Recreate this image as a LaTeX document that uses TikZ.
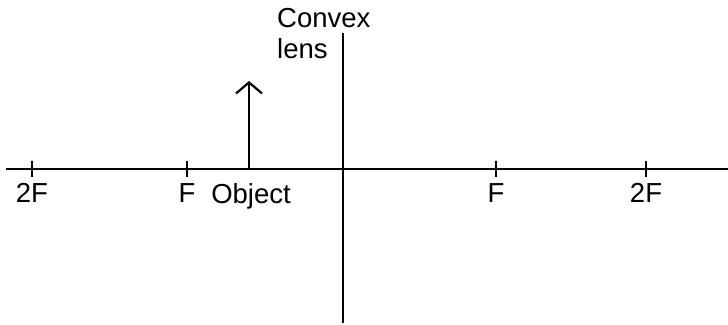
\documentclass[tikz,border=0pt]{standalone}
\usepackage{fontspec}
\setmainfont{Liberation Sans}
\usetikzlibrary{positioning,arrows.meta,calc}
\tikzset{
  every node/.style={font=\fontsize{27.5}{28}\selectfont, inner sep=0pt},
  % --- lines
  axisline/.style = {line width=2.2pt, draw=black},
  lensline/.style = {line width=2.8pt, draw=black},
  tick/.style     = {line width=1.8pt, draw=black},
  objarrow/.style = {line width=2.2pt, -{Straight Barb[length=11pt,width=26pt,line width=2.2pt]}},
  % --- labels
  lbl/.style      = {anchor=north, text=black},
}

\begin{document}
\begin{tikzpicture}[x=1pt,y=-1pt]
  \useasboundingbox (0,0) rectangle (728,324);
  % optical axis and lens
  \coordinate (axL) at (6,169);
  \coordinate (axR) at (728,169);
  \coordinate (lensT) at (343,33);
  \coordinate (lensB) at (343,323);
  \draw[axisline] (axL) -- (axR);
  \draw[lensline] (lensT) -- (lensB);
  \node[anchor=north west, align=left, font=\fontsize{27.5}{31}\selectfont] (lens) at (277,8) {Convex\\lens};
  % focal points
  \foreach \x/\name/\txt in {32/tA/2F, 187/tB/F, 496/tC/F, 646/tD/2F}{
    \coordinate (\name) at (\x,169);
    \draw[tick] ($(\name)+(0,-8)$) -- ($(\name)+(0,8)$);
    \node[lbl] (l\name) at ($(\name)+(0,14)$) {\txt};
  }
  % object
  \coordinate (objB) at (249,169);
  \coordinate (objT) at (249,81);
  \draw[objarrow] (objB) -- (objT);
  \node[lbl] (obj) at ($(objB)+(2,14)$) {Object};
\end{tikzpicture}
\end{document}
